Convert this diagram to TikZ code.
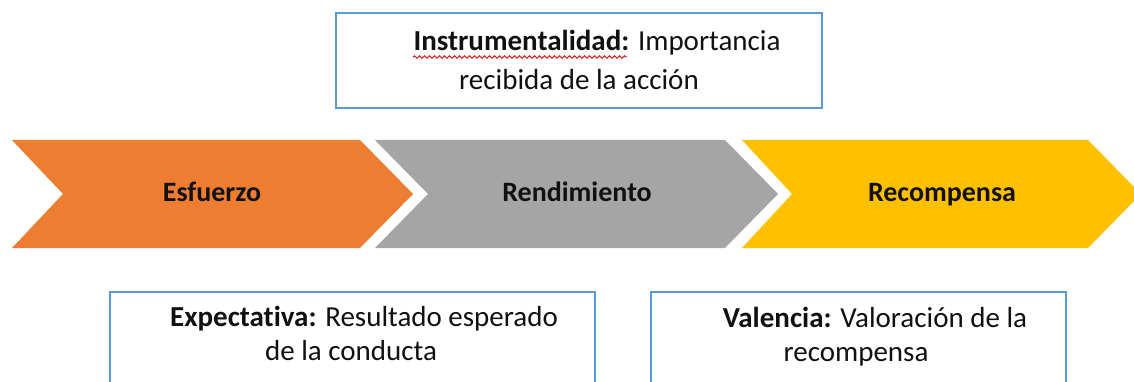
\documentclass[tikz,border=0pt]{standalone}
\usepackage{fontspec}
\setmainfont[Ligatures={NoCommon}]{Carlito}
\usetikzlibrary{decorations.pathmorphing}
\definecolor{orng}{HTML}{ED7D31}
\definecolor{gry}{HTML}{A5A5A5}
\definecolor{ylw}{HTML}{FFC000}
\definecolor{bluebd}{HTML}{5B9BD5}
\definecolor{txt}{HTML}{111111}
\begin{document}
\begin{tikzpicture}[x=1pt,y=-1pt,
  infobox/.style={draw=bluebd, line width=1.6pt, fill=white},
  body/.style={font=\fontsize{29}{34}\selectfont, text=txt, inner sep=0pt, anchor=base},
  chevlabel/.style={font=\fontsize{28}{34}\selectfont\bfseries, text=txt, inner sep=0pt, anchor=base}
]
\path[use as bounding box] (0,0) rectangle (1134,382);
\clip (0,0) rectangle (1134,382);

% top box
\draw[infobox] (336,13) rectangle (822,108);
\node[body] (inst1) at (597,51) {\textbf{Instrumentalidad:} Importancia};
\node[body] (inst2) at (579,90) {recibida de la acción};
\draw[red!90!black, line width=0.9pt, decorate, decoration={snake, amplitude=1.2pt, segment length=5pt}] (413,57) -- (627,57);

% chevrons
\fill[orng] (12,140) -- (360,140) -- (413,194) -- (360,248) -- (12,248) -- (63,194) -- cycle;
\fill[gry] (375,140) -- (725,140) -- (778,194) -- (725,248) -- (375,248) -- (428,194) -- cycle;
\fill[ylw] (742,140) -- (1088,140) -- (1141,194) -- (1088,248) -- (742,248) -- (792,194) -- cycle;
\node[chevlabel] (esf) at (212,201) {Esfuerzo};
\node[chevlabel] (ren) at (577,201) {Rendimiento};
\node[chevlabel] (rec) at (942,201) {Recompensa};

% bottom boxes
\draw[infobox] (110,292) rectangle (595,400);
\node[body] (exp1) at (364,326) {\textbf{Expectativa:} Resultado esperado};
\node[body] (exp2) at (351,360) {de la conducta};
\draw[infobox] (651,292) rectangle (1066,400);
\node[body] (val1) at (875,327) {\textbf{Valencia:} Valoración de la};
\node[body] (val2) at (856,361) {recompensa};
\end{tikzpicture}
\end{document}
